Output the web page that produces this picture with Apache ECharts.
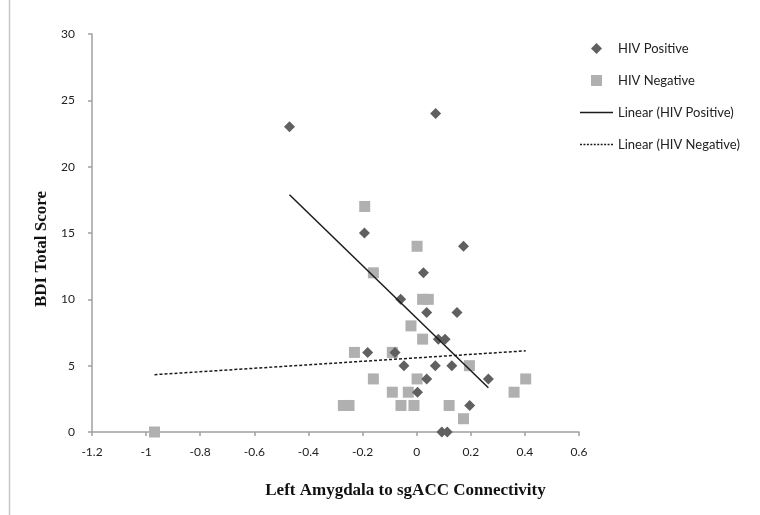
<!DOCTYPE html>
<html>
<head>
<meta charset="utf-8">
<script src="https://cdn.jsdelivr.net/npm/echarts@6/dist/echarts.min.js"></script>
<style>html,body{margin:0;padding:0;background:#fff;}#c{width:760px;height:515px;}</style>
</head>
<body>
<div id="c"></div>
<script>
var posX = [-0.47, 0.07, -0.193, 0.173, 0.025, -0.059, 0.037, 0.149, 0.080, 0.105, -0.181, -0.08, -0.047, 0.069, 0.130, 0.265, 0.037, 0.003, 0.196, 0.093, 0.113];
var posY = [23, 24, 15, 14, 12, 10, 9, 9, 7, 7, 6, 6, 5, 5, 5, 4, 4, 3, 2, 0, 0];
var negX = [-0.192, 0.0015, -0.160, 0.022, 0.043, -0.021, 0.022, -0.23, -0.09, 0.195, -0.16, 0.0015, 0.403, -0.09, -0.031, 0.36, -0.271, -0.25, -0.058, -0.01, 0.12, 0.173, -0.969];
var negY = [17, 14, 12, 10, 10, 8, 7, 6, 6, 5, 4, 4, 4, 3, 3, 3, 2, 2, 2, 2, 2, 1, 0];
var seriesNames = ['HIV Positive', 'HIV Negative', 'Linear (HIV Positive)', 'Linear (HIV Negative)'];

function zip(xs, ys){ return xs.map(function(x,i){ return [x, ys[i]]; }); }
function trend(xs, ys){
  var n = xs.length, mx = 0, my = 0;
  for (var i=0;i<n;i++){ mx += xs[i]; my += ys[i]; }
  mx /= n; my /= n;
  var sxy = 0, sxx = 0;
  for (var i=0;i<n;i++){ sxy += (xs[i]-mx)*(ys[i]-my); sxx += (xs[i]-mx)*(xs[i]-mx); }
  var b = sxy/sxx, a = my - b*mx;
  var lo = Math.min.apply(null, xs), hi = Math.max.apply(null, xs);
  return [[lo, a+b*lo], [hi, a+b*hi]];
}
// legend icon paths
var solidIcon = 'path://M0,0h33v1.5h-33z';
var dashIcon = 'path://';
for (var k = 0; k < 33; k += 3.5) { dashIcon += 'M' + k + ',0h2v1.5h-2z'; }
var diamondIcon = 'path://M5.5,0L11,5.5L5.5,11L0,5.5Z';
var rectIcon = 'path://M0,0h11v11h-11z';

var chart = echarts.init(document.getElementById('c'));
var tickFont = 'Lato, "Open Sans", sans-serif';
chart.setOption({
  animation: false,
  backgroundColor: '#fff',
  grid: { left: 92, right: 181, top: 34, bottom: 83, containLabel: false },
  xAxis: {
    type: 'value', min: -1.2, max: 0.6, interval: 0.2,
    name: 'Left Amygdala to sgACC Connectivity', nameLocation: 'middle', nameGap: 50,
    nameTextStyle: { fontFamily: '"Liberation Serif", serif', fontWeight: 'bold', fontSize: 17, color: '#111', padding: [0,0,0,140] },
    axisLine: { onZero: false, lineStyle: { color: '#a0a0a0', width: 1.5 } },
    axisTick: { show: true, length: 4, inside: false, lineStyle: { color: '#a0a0a0', width: 1.5 } },
    axisLabel: { margin: 14, fontFamily: tickFont, fontSize: 12, color: '#222',
      formatter: function(v){ var r = Math.round(v*10)/10; return String(r); } },
    splitLine: { show: false }
  },
  yAxis: {
    type: 'value', min: 0, max: 30, interval: 5,
    name: 'BDI Total Score', nameLocation: 'middle', nameGap: 31, nameRotate: 90,
    nameTextStyle: { fontFamily: '"Liberation Serif", serif', fontWeight: 'bold', fontSize: 17, color: '#111', padding: [0,32,0,0] },
    axisLine: { onZero: false, lineStyle: { color: '#a0a0a0', width: 1.5 } },
    axisTick: { show: true, length: 4, inside: false, lineStyle: { color: '#a0a0a0', width: 1.5 } },
    axisLabel: { margin: 17, fontFamily: tickFont, fontSize: 12, color: '#222' },
    splitLine: { show: false }
  },
  legend: {
    orient: 'vertical', left: 580, top: 42, padding: 0, itemWidth: 33, itemHeight: 11, itemGap: 19,
    symbolKeepAspect: true,
    textStyle: { fontFamily: tickFont, fontSize: 13, color: '#222' },
    data: [
      { name: seriesNames[0], icon: diamondIcon },
      { name: seriesNames[1], icon: rectIcon },
      { name: seriesNames[2], icon: solidIcon },
      { name: seriesNames[3], icon: dashIcon }
    ]
  },
  graphic: [
    { type: 'line', shape: { x1: 9.5, y1: 0, x2: 9.5, y2: 515 }, style: { stroke: '#c8c8c8', lineWidth: 1.5 } }
  ],
  series: [
    { name: seriesNames[0], type: 'scatter', symbol: 'diamond', symbolSize: [11, 11],
      itemStyle: { color: '#606060', opacity: 1 }, data: zip(posX, posY), z: 3 },
    { name: seriesNames[1], type: 'scatter', symbol: 'rect', symbolSize: 11,
      itemStyle: { color: '#b0b0b0', opacity: 1 }, data: zip(negX, negY), z: 2 },
    { name: seriesNames[2], type: 'line', symbol: 'none', data: trend(posX, posY),
      lineStyle: { color: '#1a1a1a', width: 1.5, type: 'solid' }, itemStyle: { color: '#1a1a1a' }, z: 4 },
    { name: seriesNames[3], type: 'line', symbol: 'none', data: trend(negX, negY),
      lineStyle: { color: '#1a1a1a', width: 1.5, type: [3, 2] }, itemStyle: { color: '#1a1a1a' }, z: 4 }
  ]
});
</script>
</body>
</html>
